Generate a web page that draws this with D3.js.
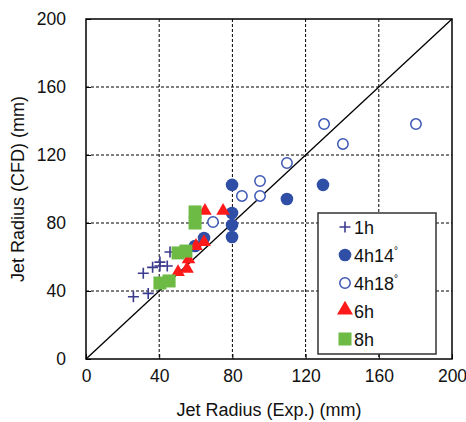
<!DOCTYPE html>
<html>
<head>
<meta charset="utf-8">
<script src="https://cdn.jsdelivr.net/npm/d3@7"></script>
<style>
  body { margin: 0; background: #fff; }
  text { font-family: Arial, "Liberation Sans", sans-serif; }
</style>
</head>
<body>
<div id="chart"></div>
<script>
// values: [exp, cfd] in mm
var s1h = [[25.9, 36.6], [34, 38.6], [31.3, 50.4], [36.4, 53.9], [40.4, 54.7], [44.4, 54.7], [40.4, 57], [45.9, 62.9]];
var s4h14 = [[79.8, 102.4], [79.8, 85.9], [79.8, 78.8], [79.8, 71.8], [64.5, 71.2], [59.6, 66.5], [109.8, 94.1], [129.5, 102.4]];
var s4h18 = [[130.1, 138.2], [140.4, 126.5], [180.3, 138.2], [109.8, 115.3], [95.1, 104.7], [95.1, 95.9], [85.2, 95.9], [69.4, 80.6]];
var s6h = [[65, 86.5], [74.9, 86.5], [64.5, 68.2], [60.1, 65.9], [56, 58], [55.2, 52.4], [50.3, 50.6]];
var s8h = [[59.6, 86.5], [59.6, 80], [50.3, 62.4], [54.6, 63.5], [40.4, 44.7], [45.4, 45.9]];
var ticks = [0, 40, 80, 120, 160, 200];
var legendNames = ["1h", "4h14", "4h18", "6h", "8h"];

var W = 466, H = 422;
var m = {left: 86, top: 19, right: 14, bottom: 63};
var pw = W - m.left - m.right, ph = H - m.top - m.bottom;

var svg = d3.select("#chart").append("svg").attr("width", W).attr("height", H);
var g = svg.append("g").attr("transform", "translate(" + m.left + "," + m.top + ")");

var x = d3.scaleLinear().domain([0, 200]).range([0, pw]);
var y = d3.scaleLinear().domain([0, 200]).range([ph, 0]);

// grid
g.selectAll(".gx").data(ticks.slice(1, -1)).enter().append("line")
  .attr("x1", function(d) { return x(d); }).attr("x2", function(d) { return x(d); })
  .attr("y1", 0).attr("y2", ph)
  .attr("stroke", "#000").attr("stroke-width", 1).attr("stroke-dasharray", "3,2");
g.selectAll(".gy").data(ticks.slice(1, -1)).enter().append("line")
  .attr("y1", function(d) { return y(d); }).attr("y2", function(d) { return y(d); })
  .attr("x1", 0).attr("x2", pw)
  .attr("stroke", "#000").attr("stroke-width", 1).attr("stroke-dasharray", "3,2");

// axes
var xa = g.append("g").attr("transform", "translate(0," + ph + ")")
  .call(d3.axisBottom(x).tickValues(ticks).tickSize(-5).tickPadding(11));
var ya = g.append("g")
  .call(d3.axisLeft(y).tickValues(ticks).tickSize(-5).tickPadding(20));
[xa, ya].forEach(function(a) {
  a.select(".domain").remove();
  a.selectAll("line").attr("stroke", "#000");
  a.selectAll("text").attr("font-size", 17.5).attr("fill", "#111");
});

// 1:1 line
g.append("line").attr("x1", x(0)).attr("y1", y(0)).attr("x2", x(200)).attr("y2", y(200))
  .attr("stroke", "#000").attr("stroke-width", 1.3);

var blue = "#2f4fa6", navy = "#3c3c8e", red = "#ff1a1a", green = "#6dbb45";

function crosses(sel, data) {
  sel.selectAll(null).data(data).enter().append("path")
    .attr("d", function(d) {
      var cx = x(d[0]), cy = y(d[1]), r = 5.5;
      return "M" + (cx - r) + "," + cy + "H" + (cx + r) + "M" + cx + "," + (cy - r) + "V" + (cy + r);
    })
    .attr("stroke", navy).attr("stroke-width", 1.6).attr("fill", "none");
}
var pts = g.append("g");
crosses(pts, s1h);
pts.selectAll(null).data(s4h14).enter().append("circle")
  .attr("cx", function(d) { return x(d[0]); }).attr("cy", function(d) { return y(d[1]); })
  .attr("r", 6.3).attr("fill", blue);
pts.selectAll(null).data(s4h18).enter().append("circle")
  .attr("cx", function(d) { return x(d[0]); }).attr("cy", function(d) { return y(d[1]); })
  .attr("r", 5.2).attr("fill", "#fff").attr("stroke", "#3b56b3").attr("stroke-width", 1.5);
var tri = d3.symbol().type(d3.symbolTriangle).size(80);
pts.selectAll(null).data(s6h).enter().append("path")
  .attr("d", tri)
  .attr("transform", function(d) { return "translate(" + x(d[0]) + "," + (y(d[1]) - 1) + ")"; })
  .attr("fill", red);
pts.selectAll(null).data(s8h).enter().append("rect")
  .attr("x", function(d) { return x(d[0]) - 6.5; }).attr("y", function(d) { return y(d[1]) - 6.5; })
  .attr("width", 13).attr("height", 13).attr("fill", green);

// frame
g.append("rect").attr("width", pw).attr("height", ph)
  .attr("fill", "none").attr("stroke", "#000").attr("stroke-width", 1.5);

// axis titles
svg.append("text").attr("x", m.left + pw / 2).attr("y", 416).attr("text-anchor", "middle")
  .attr("font-size", 18).attr("fill", "#111").text("Jet Radius (Exp.) (mm)");
svg.append("text").attr("transform", "translate(24," + (m.top + ph / 2) + ") rotate(-90)")
  .attr("text-anchor", "middle").attr("font-size", 18).attr("fill", "#111").text("Jet Radius (CFD) (mm)");

// legend
var lg = svg.append("g").attr("transform", "translate(318,213)");
lg.append("rect").attr("width", 118).attr("height", 141).attr("fill", "#fff")
  .attr("stroke", "#333").attr("stroke-width", 1.5);
var ly = d3.scaleLinear().domain([0, 4]).range([14, 126]);
legendNames.forEach(function(name, i) {
  var cy = ly(i), cx = 27;
  if (i === 0) {
    lg.append("path").attr("d", "M" + (cx - 5.5) + "," + cy + "H" + (cx + 5.5) + "M" + cx + "," + (cy - 5.5) + "V" + (cy + 5.5))
      .attr("stroke", navy).attr("stroke-width", 1.6);
  } else if (i === 1) {
    lg.append("circle").attr("cx", cx).attr("cy", cy).attr("r", 6.3).attr("fill", blue);
  } else if (i === 2) {
    lg.append("circle").attr("cx", cx).attr("cy", cy).attr("r", 5.2).attr("fill", "#fff")
      .attr("stroke", "#3b56b3").attr("stroke-width", 1.5);
  } else if (i === 3) {
    lg.append("path").attr("d", d3.symbol().type(d3.symbolTriangle).size(110)).attr("transform", "translate(" + cx + "," + (cy - 1) + ")").attr("fill", red);
  } else {
    lg.append("rect").attr("x", cx - 6.5).attr("y", cy - 6.5).attr("width", 13).attr("height", 13).attr("fill", green);
  }
  var t = lg.append("text").attr("x", 36).attr("y", cy + 6.5).attr("font-size", 18).attr("fill", "#111").text(name);
  if (i === 1 || i === 2) {
    t.append("tspan").attr("dy", -8).attr("font-size", 10).text("°");
  }
});
</script>
</body>
</html>
